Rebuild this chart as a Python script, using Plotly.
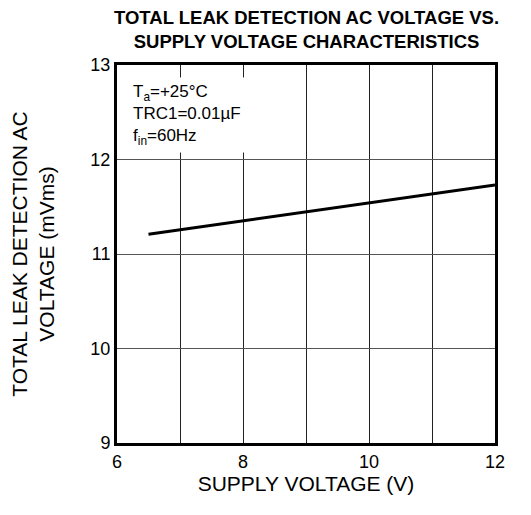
import plotly.graph_objects as go

supply_voltage = [6.5, 12.0]
leak_voltage = [11.21, 11.73]
x_ticks = [6, 7, 8, 9, 10, 11, 12]
x_tick_text = ["6", "", "8", "", "10", "", "12"]
y_ticks = [9, 10, 11, 12, 13]

FONT = "Liberation Sans, Arial, sans-serif"

fig = go.Figure()
fig.add_trace(go.Scatter(x=supply_voltage, y=leak_voltage, mode="lines",
                         line=dict(color="black", width=3), showlegend=False))

# page body has an 8px default margin, so margins compensate for it
fig.update_layout(
    width=531, height=515,
    margin=dict(l=109, r=44, t=57, b=80),
    paper_bgcolor="white", plot_bgcolor="white",
    font=dict(family=FONT, size=18, color="black"),
    xaxis=dict(range=[6, 12], tickvals=x_ticks, ticktext=x_tick_text,
               showgrid=True, gridcolor="#222", gridwidth=1,
               showline=True, linecolor="black", linewidth=3, mirror=True,
               ticks="", zeroline=False, tickfont=dict(size=18), automargin=False,
               title=dict(text="SUPPLY VOLTAGE (V)", font=dict(size=21), standoff=3)),
    yaxis=dict(range=[9, 13], tickvals=y_ticks,
               showgrid=True, gridcolor="#555", gridwidth=1,
               showline=True, linecolor="black", linewidth=3, mirror=True,
               ticks="", zeroline=False, tickfont=dict(size=18), automargin=False,
               title=dict(text="TOTAL LEAK DETECTION AC<br>VOLTAGE (mVms)",
                          font=dict(size=21), standoff=37)),
    annotations=[
        dict(text="<b>TOTAL LEAK DETECTION AC VOLTAGE VS.<br>SUPPLY VOLTAGE CHARACTERISTICS</b>",
             xref="paper", yref="paper", x=0.5, y=1.0, yshift=11, xanchor="center", yanchor="bottom",
             showarrow=False, font=dict(size=18.5, family=FONT), align="center"),
        dict(text="T<sub>a</sub>=+25°C<br>TRC1=0.01µF<br>f<sub>in</sub>=60Hz",
             xref="paper", yref="paper", x=0.0, y=1.0, xshift=11, yshift=-12,
             xanchor="left", yanchor="top", align="left", showarrow=False,
             bgcolor="white", borderpad=4, font=dict(size=17, family=FONT)),
    ],
)

fig.write_html("out.html")
